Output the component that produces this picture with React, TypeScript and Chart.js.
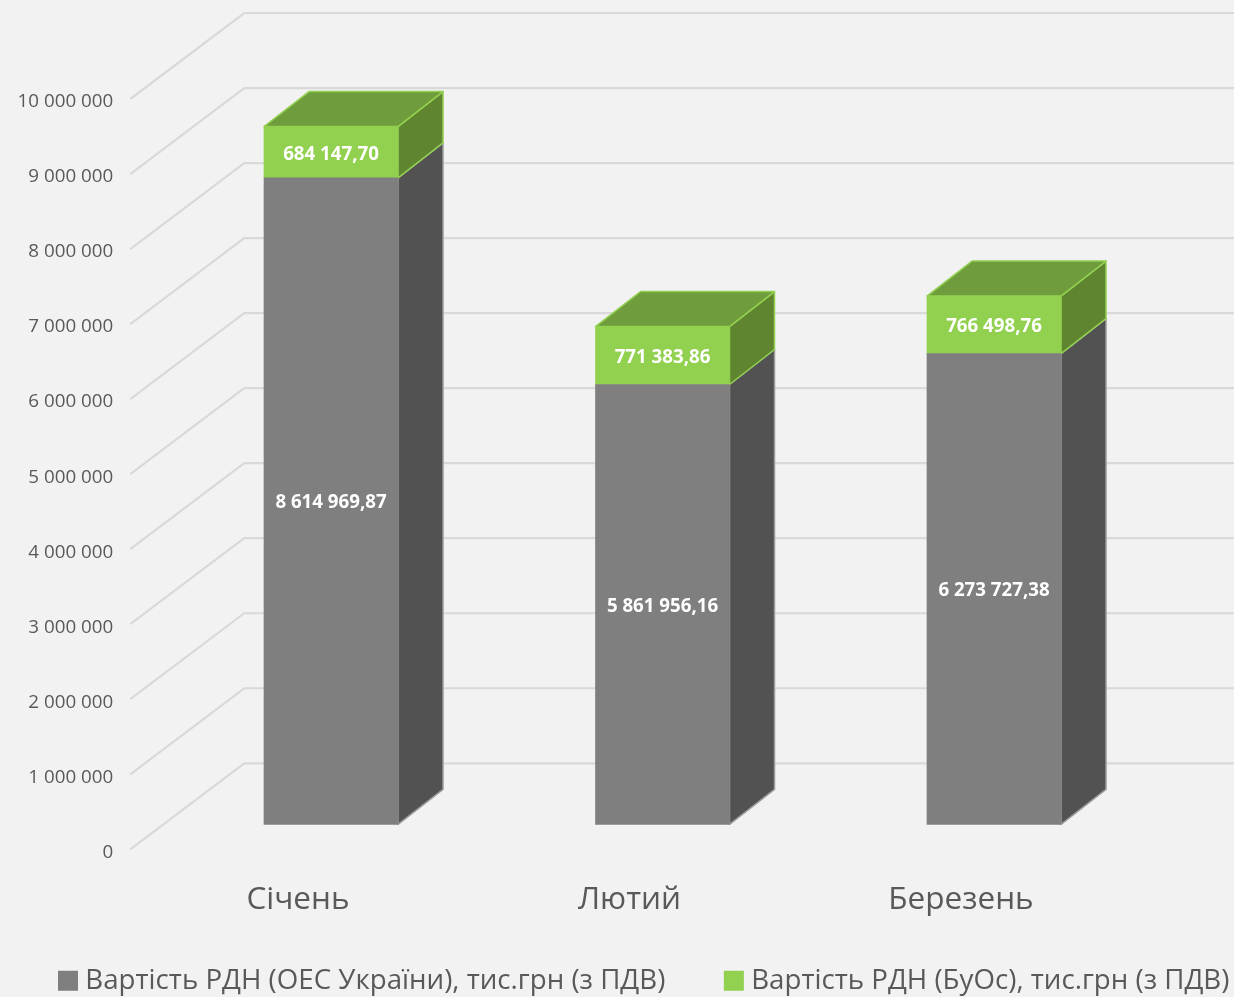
import React, { useEffect, useRef } from "react";
import { Chart, registerables } from "chart.js";

Chart.register(...registerables);

const months = ["Січень", "Лютий", "Березень"];
const oesValues = [8614969.87, 5861956.16, 6273727.38];
const buosValues = [684147.7, 771383.86, 766498.76];
const oesLabels = ["8 614 969,87", "5 861 956,16", "6 273 727,38"];
const buosLabels = ["684 147,70", "771 383,86", "766 498,76"];
const seriesNames = ["Вартість РДН (ОЕС України), тис.грн (з ПДВ)", "Вартість РДН (БуОс), тис.грн (з ПДВ)"];
const tickTexts: Record<number, string> = {};
[0, 1, 2, 3, 4, 5, 6, 7, 8, 9, 10].forEach((m) => {
  tickTexts[m * 1000000] = m === 0 ? "0" : `${m} 000 000`;
});

const FONT = "'Open Sans', sans-serif";
const TEXT = "#595959";
const GRID = "#d9d9d9";
const FRONT = [33, -25];
const BACK = [45, -35];
const WALL = [114, -86];
const faces = [
  { front: "#7f7f7f", side: "#525252", top: "#5f5f5f", stroke: "#9a9a9a" },
  { front: "#92d050", side: "#5f8530", top: "#6f9c3c", stroke: "#92d050" },
];
const barLabels = [oesLabels, buosLabels];

function poly(ctx: CanvasRenderingContext2D, pts: number[][], fill: string, stroke: string) {
  ctx.beginPath();
  pts.forEach((p, i) => (i ? ctx.lineTo(p[0], p[1]) : ctx.moveTo(p[0], p[1])));
  ctx.closePath();
  ctx.fillStyle = fill;
  ctx.fill();
  ctx.strokeStyle = stroke;
  ctx.lineWidth = 1.5;
  ctx.lineJoin = "round";
  ctx.stroke();
}

const box3d = {
  id: "box3d",
  afterLayout(chart: any) {
    chart.legend.top = 902;
  },
  beforeDatasetsDraw(chart: any) {
    const { ctx, chartArea, scales } = chart;
    ctx.save();
    ctx.strokeStyle = GRID;
    ctx.lineWidth = 2.2;
    scales.y.getTicks().forEach((t: any) => {
      const y = scales.y.getPixelForValue(t.value);
      const x0 = chartArea.left - 2;
      ctx.beginPath();
      ctx.moveTo(x0, y);
      ctx.lineTo(x0 + WALL[0], y + WALL[1]);
      ctx.lineTo(chartArea.right + WALL[0], y + WALL[1]);
      ctx.stroke();
    });
    ctx.translate(FRONT[0], FRONT[1]);
    [0, 1].forEach((d) => {
      chart.getDatasetMeta(d).data.forEach((bar: any) => {
        const f = faces[d];
        const r = bar.x + bar.width / 2;
        const l = bar.x - bar.width / 2;
        poly(ctx, [[r, bar.y], [r + BACK[0], bar.y + BACK[1]], [r + BACK[0], bar.base + BACK[1]], [r, bar.base]], f.side, f.stroke);
        if (d === 1) {
          poly(ctx, [[l, bar.y], [l + BACK[0], bar.y + BACK[1]], [r + BACK[0], bar.y + BACK[1]], [r, bar.y]], f.top, f.stroke);
        }
      });
    });
  },
  afterDatasetsDraw(chart: any) {
    const { ctx } = chart;
    ctx.font = `bold 18.7px ${FONT}`;
    ctx.fillStyle = "#ffffff";
    ctx.textAlign = "center";
    ctx.textBaseline = "middle";
    [0, 1].forEach((d) => {
      chart.getDatasetMeta(d).data.forEach((bar: any, i: number) => {
        ctx.fillText(barLabels[d][i], bar.x, (bar.y + bar.base) / 2 + 2);
      });
    });
    ctx.restore();
  },
};

export default function App() {
  const ref = useRef<HTMLCanvasElement>(null);
  useEffect(() => {
    document.body.style.margin = "0";
    document.body.style.background = "#f2f2f2";
    const chart = new Chart(ref.current!, {
      type: "bar",
      data: {
        labels: months,
        datasets: [
          { label: seriesNames[0], data: oesValues, backgroundColor: faces[0].front, borderWidth: 0, clip: false, barThickness: 134, yAxisID: "y" },
          { label: seriesNames[1], data: buosValues, backgroundColor: faces[1].front, borderWidth: 0, clip: false, barThickness: 134, yAxisID: "y" },
        ],
      } as any,
      options: {
        responsive: false,
        animation: false,
        layout: { padding: { top: 99, left: -0.5, right: -300, bottom: -25 } },
        plugins: {
          tooltip: { enabled: false },
          legend: {
            position: "bottom",
            align: "start",
            labels: {
              usePointStyle: true,
              pointStyle: "rect",
              boxWidth: 7,
              boxHeight: 20,
              padding: 65,
              color: TEXT,
              font: { family: FONT, size: 27.7 },
            },
          },
        },
        scales: {
          x: {
            stacked: true,
            grid: { display: false },
            border: { display: false },
            ticks: { color: TEXT, font: { family: FONT, size: 31.5 }, padding: 24, maxRotation: 0 },
            afterFit(s: any) {
              s.height = 70;
            },
          },
          y: {
            stacked: true,
            min: 0,
            max: 10000000,
            grid: { display: false },
            border: { display: false },
            ticks: {
              stepSize: 1000000,
              color: TEXT,
              font: { family: FONT, size: 18.8 },
              padding: 11,
              labelOffset: 3,
              callback: (v: any) => tickTexts[v],
            },
            afterFit(s: any) {
              s.width = 132.75;
            },
          },
          yRight: {
            position: "right",
            display: true,
            min: 0,
            max: 1,
            grid: { display: false },
            border: { display: false },
            ticks: { display: false },
            afterFit(s: any) {
              s.width = 407.25;
            },
          },
        },
      } as any,
      plugins: [box3d],
    });
    return () => chart.destroy();
  }, []);
  return <canvas ref={ref} width={1234} height={997} style={{ display: "block", background: "#f2f2f2" }} />;
}
